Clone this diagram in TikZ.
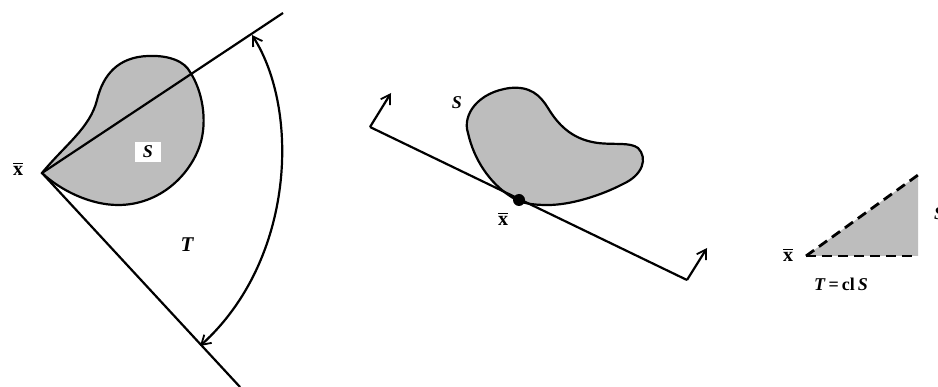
\documentclass[tikz,border=0pt]{standalone}
\usepackage{fontspec}
\setmainfont{Liberation Serif}
\usetikzlibrary{arrows.meta}
\definecolor{blobgray}{gray}{0.74}
\tikzset{
  ray/.style={line width=2.2pt},
  blob/.style={fill=blobgray, draw=black, line width=2.2pt},
  barb/.tip={Straight Barb[length=9pt,width=11pt,line width=1.8pt]},
  arr/.style={line width=2.2pt, -barb},
  lbl/.style={font=\fontsize{20}{20}\selectfont\bfseries},
  ilbl/.style={font=\fontsize{18}{18}\selectfont\bfseries\itshape},
}
\newcommand{\xbar}{{\setbox0\hbox{x}\vbox{\hrule height 1.8pt width \wd0 \kern2pt \box0}}}
\begin{document}
\begin{tikzpicture}[x=1pt,y=-1pt]
\useasboundingbox (0,0) rectangle (938,387);
\clip (0,0) rectangle (938,387);
\fill[white] (0,0) rectangle (938,387);

% ---------- left panel ----------
\coordinate (A) at (42,173);
\coordinate (U) at (283,13);
\coordinate (L) at (240,387);
\coordinate (Ua) at (252,35);
\coordinate (La) at (200,346);
\draw[blob] (A) .. controls (65,145) and (90,128) .. (97,100)
  .. controls (103,75) and (118,57) .. (148,56)
  .. controls (170,55) and (185,62) .. (190,72)
  .. controls (202,90) and (208,120) .. (200,145)
  .. controls (190,175) and (160,205) .. (118,205)
  .. controls (90,205) and (60,190) .. (A) -- cycle;
\draw[ray] (A) -- (U);
\draw[ray] (A) -- (L);
\draw[line width=2.2pt, barb-barb]
  (Ua) .. controls (300,110) and (295,260) .. (La);
\node[lbl] (xl) at (18,169) {\xbar};
\node[ilbl, fill=white, inner sep=0pt, minimum width=26pt, minimum height=20pt] (Sl) at (148,152) {S};
\node[font=\fontsize{21}{21}\selectfont\bfseries\itshape] (Tl) at (187,245) {T};

% ---------- middle panel ----------
\coordinate (M1) at (370,127);
\coordinate (M2) at (687,280);
\coordinate (M1t) at (391,93);
\coordinate (M2t) at (707,248);
\draw[blob] (468,133) .. controls (462,115) and (478,92) .. (510,88)
  .. controls (530,86) and (540,95) .. (548,108)
  .. controls (560,128) and (575,140) .. (598,143)
  .. controls (615,145) and (630,142) .. (638,148)
  .. controls (648,158) and (643,175) .. (623,184)
  .. controls (600,196) and (570,205) .. (548,205)
  .. controls (530,205) and (520,203) .. (510,196)
  .. controls (490,183) and (474,160) .. cycle;
\draw[ray] (M1) -- (M2);
\draw[arr] (M1) -- (M1t);
\draw[arr] (M2) -- (M2t);
\node[circle, fill=black, inner sep=0pt, minimum size=12pt] (xd) at (519,200) {};
\node[lbl] (xm) at (503,219) {\xbar};
\node[ilbl] (Sm) at (457,103) {S};

% ---------- right panel ----------
\coordinate (R0) at (806,256);
\coordinate (R1) at (918,175);
\coordinate (R2) at (918,256);
\fill[blobgray] (R0) -- (R1) -- (R2) -- cycle;
\draw[line width=2.8pt, dash pattern=on 10pt off 6pt] (R0) -- (R1);
\draw[line width=2.8pt, dash pattern=on 10pt off 6pt] (R0) -- (R2);
\node[lbl] (xr) at (788,255) {\xbar};
\node[ilbl] (Sr) at (939,214) {S};
\node[font=\fontsize{18}{18}\selectfont\bfseries] (Tr) at (841,284) {\textit{T}\,=\,cl\,\textit{S}};
\end{tikzpicture}
\end{document}
